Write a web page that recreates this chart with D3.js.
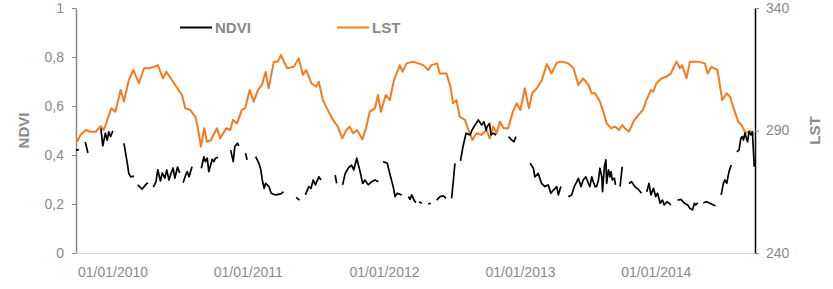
<!DOCTYPE html>
<html>
<head>
<meta charset="utf-8">
<script src="https://cdn.jsdelivr.net/npm/d3@7"></script>
<style>
  html, body { margin: 0; padding: 0; background: #fff; }
  svg { display: block; font-family: "Liberation Sans", Arial, sans-serif; }
</style>
</head>
<body>
<svg id="chart" width="833" height="289"></svg>
<script>
// ---------------- DATA ----------------
const xTickDates = ["2010-01-01", "2011-01-01", "2012-01-01", "2013-01-01", "2014-01-01"];
const ndviTicks = [0, 0.2, 0.4, 0.6, 0.8, 1];
const lstTicks = [240, 290, 340];
const seriesNames = ["NDVI", "LST"];

const lstDates = [
  "2010-01-04","2010-01-13","2010-01-27","2010-02-09","2010-02-23","2010-03-08","2010-03-17","2010-03-26",
  "2010-04-06","2010-04-17","2010-05-01","2010-05-10","2010-05-23","2010-06-04","2010-06-19","2010-07-03",
  "2010-07-16","2010-07-30","2010-08-09","2010-08-23","2010-09-01","2010-09-16","2010-10-04","2010-10-13",
  "2010-10-22","2010-11-04","2010-11-18","2010-11-24","2010-12-03","2010-12-12","2010-12-19","2010-12-30",
  "2011-01-15","2011-01-24","2011-02-09","2011-02-20","2011-02-27","2011-03-10","2011-03-23","2011-04-01",
  "2011-04-13","2011-04-24","2011-05-05","2011-05-16","2011-05-26","2011-06-03","2011-06-17","2011-06-28",
  "2011-07-06","2011-07-23","2011-08-10","2011-08-23","2011-09-03","2011-09-12","2011-09-26","2011-10-09",
  "2011-10-16","2011-10-27","2011-11-09","2011-11-23","2011-12-06","2011-12-18","2011-12-29","2012-01-07",
  "2012-01-16","2012-01-27","2012-02-10","2012-02-21","2012-03-01","2012-03-15","2012-03-23","2012-03-31",
  "2012-04-13","2012-04-24","2012-05-05","2012-05-21","2012-05-28","2012-06-08","2012-06-26","2012-07-09",
  "2012-07-23","2012-08-05","2012-08-14","2012-08-29","2012-09-05","2012-09-23","2012-10-04","2012-10-11",
  "2012-10-20","2012-10-29","2012-11-12","2012-11-20","2012-12-02","2012-12-13","2012-12-26","2013-01-09",
  "2013-01-18","2013-01-27","2013-02-05","2013-02-14","2013-02-24","2013-03-08","2013-03-21","2013-03-31",
  "2013-04-10","2013-04-22","2013-05-03","2013-05-12","2013-05-24","2013-06-07","2013-06-20","2013-07-03",
  "2013-07-17","2013-07-30","2013-08-17","2013-08-31","2013-09-13","2013-09-26","2013-10-10","2013-10-19",
  "2013-10-28","2013-11-10","2013-11-19","2013-11-28","2013-12-10","2013-12-21","2013-12-31","2014-01-09",
  "2014-01-16","2014-01-27","2014-02-08","2014-02-21","2014-03-06","2014-03-15","2014-03-27","2014-04-02",
  "2014-04-11","2014-04-25","2014-05-08","2014-05-20","2014-05-26","2014-06-04","2014-06-13","2014-06-19",
  "2014-07-01","2014-07-10","2014-08-01","2014-08-19","2014-08-27","2014-09-06","2014-09-22","2014-10-05",
  "2014-10-17","2014-10-26","2014-11-03","2014-11-17","2014-11-26","2014-12-07","2014-12-18","2014-12-29"
];
const lstValues = [
  285.4,288.2,290.2,289.5,289.5,291.8,290.2,294.3,
  299.1,297.7,306.5,301.8,310.6,314.7,309.3,315.4,
  315.4,316.0,316.7,311.3,314.0,310.6,306.5,304.5,
  299.1,298.4,295.6,291.6,283.4,290.9,285.4,286.1,
  290.9,286.8,290.9,290.2,294.3,292.9,298.4,299.1,
  306.5,301.8,306.5,308.6,314.0,307.2,318.1,318.1,
  320.8,315.4,316.0,319.5,312.7,314.7,309.3,307.9,
  309.9,302.4,298.4,294.3,291.6,286.8,290.2,291.6,
  288.9,290.2,286.4,291.6,297.7,299.1,304.5,297.7,
  304.5,302.4,310.6,316.7,314.0,317.4,318.1,317.4,
  316.7,314.7,316.7,317.4,313.3,313.3,307.9,301.1,
  302.4,295.6,294.3,290.9,286.1,288.9,288.2,290.2,
  286.8,291.6,288.9,293.6,290.9,290.9,297.7,301.1,
  298.4,307.2,299.1,305.2,307.2,310.6,317.1,313.3,
  317.7,318.1,317.4,315.4,308.6,311.3,308.6,305.2,
  305.2,301.8,297.7,292.9,290.9,291.6,290.2,292.2,
  290.9,289.5,293.6,296.3,298.4,302.4,306.5,305.8,
  309.3,311.3,312.0,313.3,315.4,318.1,315.4,316.7,
  311.3,318.1,318.1,317.4,313.3,316.0,314.7,302.4,
  305.2,303.8,299.7,293.6,292.2,288.9,289.9,288.2
];

// NDVI: null value = gap in the record
const ndviDates = [
  "2010-01-01","2010-01-09",null,
  "2010-01-26","2010-02-02",null,
  "2010-03-09","2010-03-14","2010-03-21","2010-03-26","2010-03-30","2010-04-04","2010-04-10",null,
  "2010-05-10","2010-05-19","2010-05-23","2010-05-28","2010-06-06",null,
  "2010-06-16","2010-06-28","2010-07-07","2010-07-13",null,
  "2010-07-28","2010-08-04","2010-08-09","2010-08-16","2010-08-21","2010-08-28","2010-09-02","2010-09-08",
  "2010-09-13","2010-09-19","2010-09-24","2010-10-01","2010-10-07",null,
  "2010-10-16","2010-10-23","2010-10-27","2010-11-01","2010-11-05","2010-11-09",null,
  "2010-12-04","2010-12-11","2010-12-15","2010-12-20","2010-12-24","2010-12-29","2011-01-02","2011-01-07",
  "2011-01-11","2011-01-18",null,
  "2011-02-21","2011-02-28","2011-03-04","2011-03-11","2011-03-15",null,
  "2011-04-02","2011-04-06",null,
  "2011-04-29","2011-05-08","2011-05-13","2011-05-17","2011-05-22","2011-05-26","2011-06-04","2011-06-10",
  "2011-06-22","2011-07-06","2011-07-13",null,
  "2011-08-16","2011-08-25",null,
  "2011-09-10","2011-09-19","2011-09-25","2011-10-01","2011-10-07","2011-10-16","2011-10-22",null,
  "2011-11-29","2011-12-03",null,
  "2011-12-19","2011-12-26","2012-01-03","2012-01-12","2012-01-18","2012-01-26","2012-02-04","2012-02-11",
  "2012-02-17","2012-02-26","2012-03-06","2012-03-15","2012-03-24",null,
  "2012-04-06","2012-04-17","2012-04-26","2012-05-03","2012-05-08","2012-05-14","2012-05-26",null,
  "2012-06-13","2012-06-17","2012-06-22","2012-06-28","2012-07-03",null,
  "2012-07-12","2012-07-19",null,
  "2012-08-05","2012-08-12",null,
  "2012-08-28","2012-09-06","2012-09-15","2012-09-22",null,
  "2012-10-07","2012-10-12","2012-10-16",null,
  "2012-10-31","2012-11-07","2012-11-15","2012-11-26","2012-12-01","2012-12-09","2012-12-18","2012-12-27",
  "2013-01-02","2013-01-08","2013-01-11","2013-01-17","2013-01-21","2013-01-27","2013-02-04",null,
  "2013-03-09","2013-03-18","2013-03-24","2013-03-29",null,
  "2013-05-06","2013-05-15","2013-05-19","2013-05-28","2013-06-06","2013-06-15","2013-06-24","2013-07-01",
  "2013-07-08","2013-07-17","2013-07-21","2013-07-28",null,
  "2013-08-17","2013-08-26","2013-09-02","2013-09-09","2013-09-13","2013-09-20","2013-09-26","2013-10-03",
  "2013-10-10","2013-10-14","2013-10-19","2013-10-23","2013-10-28","2013-11-01","2013-11-06","2013-11-10",
  "2013-11-15","2013-11-17","2013-11-22","2013-11-26","2013-11-28","2013-12-03","2013-12-07","2013-12-10",
  "2013-12-13","2013-12-19","2013-12-22",null,
  "2014-01-03","2014-01-09",null,
  "2014-01-27","2014-02-03","2014-02-12","2014-02-21","2014-03-02",null,
  "2014-03-16","2014-03-22","2014-03-27","2014-04-03","2014-04-09","2014-04-14","2014-04-21","2014-04-27",
  "2014-05-02","2014-05-09","2014-05-15","2014-05-20",null,
  "2014-06-07","2014-06-16","2014-06-25","2014-07-04","2014-07-10","2014-07-17","2014-07-22","2014-07-26",
  "2014-07-31",null,
  "2014-08-15","2014-08-24","2014-09-02","2014-09-11","2014-09-17",null,
  "2014-10-02","2014-10-08","2014-10-12","2014-10-17","2014-10-23","2014-10-29",null,
  "2014-11-13","2014-11-19","2014-11-24","2014-11-28","2014-12-01","2014-12-05","2014-12-12","2014-12-16",
  "2014-12-21","2014-12-25","2014-12-30"
];
const ndviValues = [
  0.420,0.422,null,
  0.453,0.408,null,
  0.509,0.437,0.489,0.461,0.495,0.475,0.499,null,
  0.448,0.366,0.325,0.311,0.314,null,
  0.278,0.261,0.278,0.287,null,
  0.269,0.290,0.339,0.294,0.327,0.306,0.339,0.298,
  0.322,0.347,0.306,0.351,0.327,null,
  0.287,0.318,0.332,0.311,0.332,0.352,null,
  0.346,0.393,0.373,0.387,0.332,0.359,0.382,0.373,
  0.387,0.391,null,
  0.420,0.373,0.434,0.448,0.437,null,
  0.407,0.380,null,
  0.393,0.366,0.339,0.298,0.264,0.284,0.271,0.244,
  0.237,0.241,0.250,null,
  0.227,0.216,null,
  0.237,0.271,0.264,0.298,0.278,0.311,0.298,null,
  0.318,0.284,null,
  0.278,0.325,0.346,0.359,0.339,0.387,0.332,0.284,
  0.298,0.278,0.291,0.298,0.291,null,
  0.373,0.366,0.311,0.271,0.230,0.244,0.237,null,
  0.230,0.219,0.237,0.216,0.205,null,
  0.209,0.203,null,
  0.200,0.203,null,
  0.216,0.230,0.233,0.223,null,
  0.223,0.298,0.366,null,
  0.376,0.437,0.489,0.482,0.502,0.522,0.543,0.522,
  0.536,0.502,0.516,0.529,0.482,0.489,0.482,null,
  0.475,0.461,0.454,0.475,null,
  0.366,0.346,0.311,0.325,0.284,0.271,0.278,0.244,
  0.257,0.271,0.237,0.271,null,
  0.230,0.237,0.271,0.291,0.305,0.271,0.298,0.311,
  0.284,0.271,0.311,0.291,0.271,0.271,0.298,0.346,
  0.311,0.250,0.352,0.380,0.284,0.339,0.311,0.332,
  0.298,0.305,0.278,null,
  0.271,0.352,null,
  0.284,0.291,0.271,0.260,0.244,null,
  0.250,0.284,0.237,0.264,0.230,0.244,0.203,0.216,
  0.196,0.209,0.203,0.196,null,
  0.216,0.219,0.203,0.196,0.182,0.176,0.203,0.196,
  0.205,null,
  0.205,0.209,0.203,0.196,0.193,null,
  0.237,0.284,0.298,0.284,0.332,0.359,null,
  0.413,0.420,0.468,0.475,0.461,0.489,0.454,0.495,
  0.482,0.495,0.352
];

// ---------------- CHART ----------------
const parse = d3.timeParse("%Y-%m-%d");
const svg = d3.select("#chart");
const W = 833, H = 289;
svg.append("rect").attr("width", W).attr("height", H).attr("fill", "#fff");

const plot = { left: 76, right: 755, top: 8, bottom: 253 };
const grey = "#8a8a8a";
const orange = "#f47b20";

const x = d3.scaleTime()
  .domain([parse("2010-01-01"), parse("2015-01-01")])
  .range([plot.left, plot.right]);
const yN = d3.scaleLinear().domain([0, 1]).range([plot.bottom, plot.top]);
const yL = d3.scaleLinear().domain([240, 340]).range([plot.bottom, plot.top]);

const loc = d3.formatLocale({ decimal: ",", thousands: ".", grouping: [3], currency: ["", ""] });
const fmtN = loc.format("~g");

// bottom axis
const xAxis = d3.axisBottom(x)
  .tickValues(xTickDates.map(parse))
  .tickFormat(d3.timeFormat("%d/%m/%Y"))
  .tickSize(0);
const gx = svg.append("g").attr("transform", `translate(0,${plot.bottom})`).call(xAxis);
gx.select(".domain").attr("stroke", "#d4d4d4").attr("stroke-width", 1);
gx.selectAll("text")
  .attr("fill", grey).attr("font-size", "14px")
  .attr("text-anchor", "start").attr("dx", "1.5").attr("y", 24).attr("dy", 0);

// left axis
const yAxisL = d3.axisLeft(yN).tickValues(ndviTicks).tickFormat(fmtN).tickSizeOuter(0).tickSizeInner(4).tickPadding(8);
const gl = svg.append("g").attr("transform", `translate(${plot.left},0)`).call(yAxisL);
gl.select(".domain").attr("stroke", "#888").attr("stroke-width", 1.5);
gl.selectAll(".tick line").attr("stroke", "#888");
gl.selectAll("text").attr("fill", grey).attr("font-size", "14px");

// right axis
const yAxisR = d3.axisRight(yL).tickValues(lstTicks).tickSizeOuter(0).tickSizeInner(4).tickPadding(7);
const gr = svg.append("g").attr("transform", `translate(${plot.right},0)`).call(yAxisR);
gr.select(".domain").attr("stroke", "#000").attr("stroke-width", 1.5);
gr.selectAll(".tick line").attr("stroke", "#888");
gr.selectAll("text").attr("fill", grey).attr("font-size", "14px");

// axis titles
svg.append("text")
  .attr("transform", `translate(29,${(plot.top + plot.bottom) / 2}) rotate(-90)`)
  .attr("text-anchor", "middle").attr("fill", grey)
  .attr("font-size", "15px").attr("font-weight", "bold").text(seriesNames[0]);
svg.append("text")
  .attr("transform", `translate(820,${(plot.top + plot.bottom) / 2}) rotate(-90)`)
  .attr("text-anchor", "middle").attr("fill", grey)
  .attr("font-size", "15px").attr("font-weight", "bold").text(seriesNames[1]);

// LST line
const lstData = lstDates.map((d, i) => ({ t: parse(d), v: lstValues[i] }));
svg.append("path")
  .datum(lstData)
  .attr("fill", "none").attr("stroke", orange).attr("stroke-width", 2)
  .attr("stroke-linejoin", "round")
  .attr("d", d3.line().x(d => x(d.t)).y(d => yL(d.v)));

// NDVI line
const ndviData = ndviDates.map((d, i) => ({ t: d ? parse(d) : null, v: ndviValues[i] }));
svg.append("path")
  .datum(ndviData)
  .attr("fill", "none").attr("stroke", "#000").attr("stroke-width", 1.7)
  .attr("stroke-linejoin", "round")
  .attr("d", d3.line().defined(d => d.v != null && d.t != null).x(d => x(d.t)).y(d => yN(d.v)));

// legend
const legend = [
  { name: seriesNames[0], color: "#000", x0: 180 },
  { name: seriesNames[1], color: orange, x0: 337 }
];
legend.forEach(l => {
  svg.append("line").attr("x1", l.x0).attr("x2", l.x0 + 32).attr("y1", 27.5).attr("y2", 27.5)
    .attr("stroke", l.color).attr("stroke-width", 2);
  svg.append("text").attr("x", l.x0 + 35).attr("y", 33)
    .attr("fill", grey).attr("font-size", "15px").attr("font-weight", "bold").text(l.name);
});
</script>
</body>
</html>
